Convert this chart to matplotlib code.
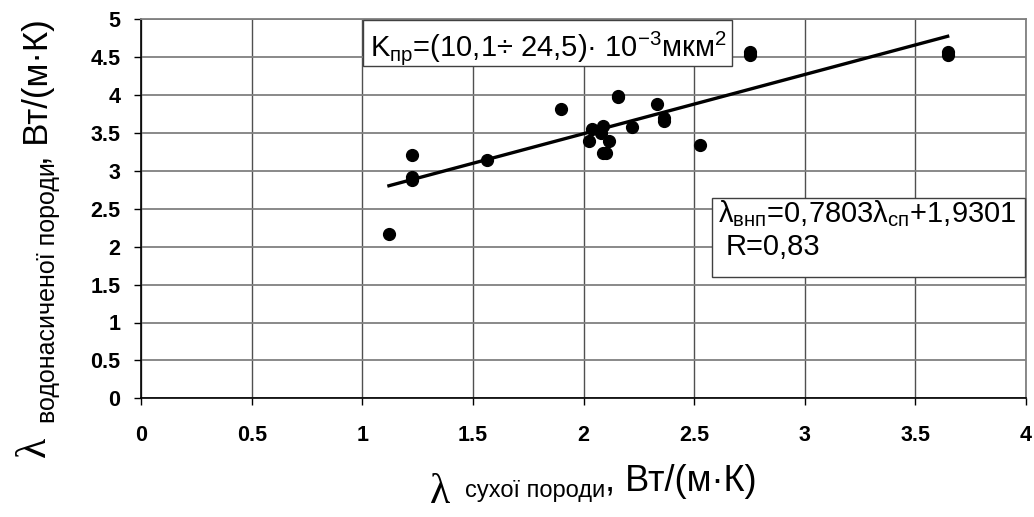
import matplotlib
matplotlib.use("Agg")
import matplotlib.pyplot as plt
from matplotlib.patches import Rectangle
import numpy as np

# dry rock conductivity vs water-saturated rock conductivity, W/(m*K)
lam_dry = [1.12, 1.226, 1.226, 1.226, 1.562, 1.90, 2.157, 2.157, 2.038, 2.087,
           2.078, 2.026, 2.114, 2.086, 2.102, 2.218, 2.332, 2.363, 2.363,
           2.527, 2.753, 2.753, 3.647, 3.647]
lam_wet = [2.17, 3.21, 2.88, 2.92, 3.14, 3.82, 3.97, 3.99, 3.55, 3.59,
           3.50, 3.39, 3.39, 3.24, 3.24, 3.575, 3.88, 3.66, 3.70,
           3.34, 4.53, 4.57, 4.53, 4.57]

slope = 0.7803
intercept = 1.9301

x_ticks = [0, 0.5, 1, 1.5, 2, 2.5, 3, 3.5, 4]
x_tick_labels = ["0", "0.5", "1", "1.5", "2", "2.5", "3", "3.5", "4"]
y_ticks = [0, 0.5, 1, 1.5, 2, 2.5, 3, 3.5, 4, 4.5, 5]
y_tick_labels = ["0", "0.5", "1", "1.5", "2", "2.5", "3", "3.5", "4", "4.5", "5"]

plt.rcParams["font.family"] = ["Liberation Sans", "DejaVu Sans"]
plt.rcParams["mathtext.fontset"] = "custom"
plt.rcParams["mathtext.rm"] = "Liberation Sans"
plt.rcParams["mathtext.it"] = "Liberation Sans"
plt.rcParams["mathtext.bf"] = "Liberation Sans:bold"

W, H = 1034, 517


def px(x, y):
    return x / W, 1 - y / H


def frame(x0, y0, x1, y1):
    # white box with a thin dark edge, given in pixel corners
    r = Rectangle(px(x0, y1), (x1 - x0) / W, (y1 - y0) / H, transform=fig.transFigure,
                  facecolor="white", edgecolor="#404040", linewidth=1, zorder=5)
    fig.patches.append(r)


fig = plt.figure(figsize=(W / 100, H / 100), dpi=100)
ax = fig.add_axes([141.3 / W, 1 - 398.3 / H, (1025.7 - 141.3) / W, (398.3 - 19.3) / H])

ax.set_xlim(0, 4)
ax.set_ylim(0, 5)
ax.tick_params(axis="both", direction="out", length=5, width=1)
ax.tick_params(axis="x", pad=14)
ax.tick_params(axis="y", pad=10)
ax.set_xticks(x_ticks)
ax.set_xticklabels(x_tick_labels, fontsize=15.5, fontweight="bold")
ax.set_yticks(y_ticks)
ax.set_yticklabels(y_tick_labels, fontsize=15.5, fontweight="bold")

ax.grid(axis="y", color="#808080", linewidth=1.3)
ax.grid(axis="x", color="#505050", linewidth=1.0)
ax.set_axisbelow(True)
for side in ["top", "right"]:
    ax.spines[side].set_color("#808080")
    ax.spines[side].set_linewidth(1.3)
for side in ["left", "bottom"]:
    ax.spines[side].set_color("black")
    ax.spines[side].set_linewidth(1.2)

ax.plot(lam_dry, lam_wet, linestyle="", marker="o", color="black", markersize=8.5, zorder=3)

xf = np.array([min(lam_dry), max(lam_dry)])
ax.plot(xf, slope * xf + intercept, color="black", linewidth=2.4, zorder=4)

# text boxes
frame(363, 20, 732, 66)
fig.text(*px(370, 56), r"K$_{\mathrm{пр}}$=(10,1÷ 24,5)· 10$^{\mathrm{-3}}$мкм$^{\mathrm{2}}$",
         fontsize=21, ha="left", va="baseline", zorder=6)
frame(712, 198, 1025, 277)
fig.text(*px(718, 222), "λ$_{\\mathrm{внп}}$=0,7803λ$_{\\mathrm{сп}}$+1,9301",
         fontsize=21, ha="left", va="baseline", zorder=6)
fig.text(*px(726, 255), "R=0,83", fontsize=21, ha="left", va="baseline", zorder=6)

# x axis label
fig.text(*px(430, 503), "λ", family=["Liberation Serif", "DejaVu Serif"], fontsize=30,
         ha="left", va="baseline")
fig.text(*px(465, 497), "сухої породи", fontsize=17, ha="left", va="baseline")
fig.text(*px(605, 491), ", Вт/(м·К)", fontsize=26, ha="left", va="baseline")

# y axis label
fig.text(*px(45, 457), "λ", family=["Liberation Serif", "DejaVu Serif"], fontsize=30,
         ha="left", va="baseline", rotation=90, rotation_mode="anchor")
fig.text(*px(55, 423), "водонасиченої породи", fontsize=18, ha="left", va="baseline",
         rotation=90, rotation_mode="anchor")
fig.text(*px(48, 165), ", Вт/(м·К)", fontsize=25, ha="left", va="baseline",
         rotation=90, rotation_mode="anchor")

fig.savefig("out.png", dpi=100)
